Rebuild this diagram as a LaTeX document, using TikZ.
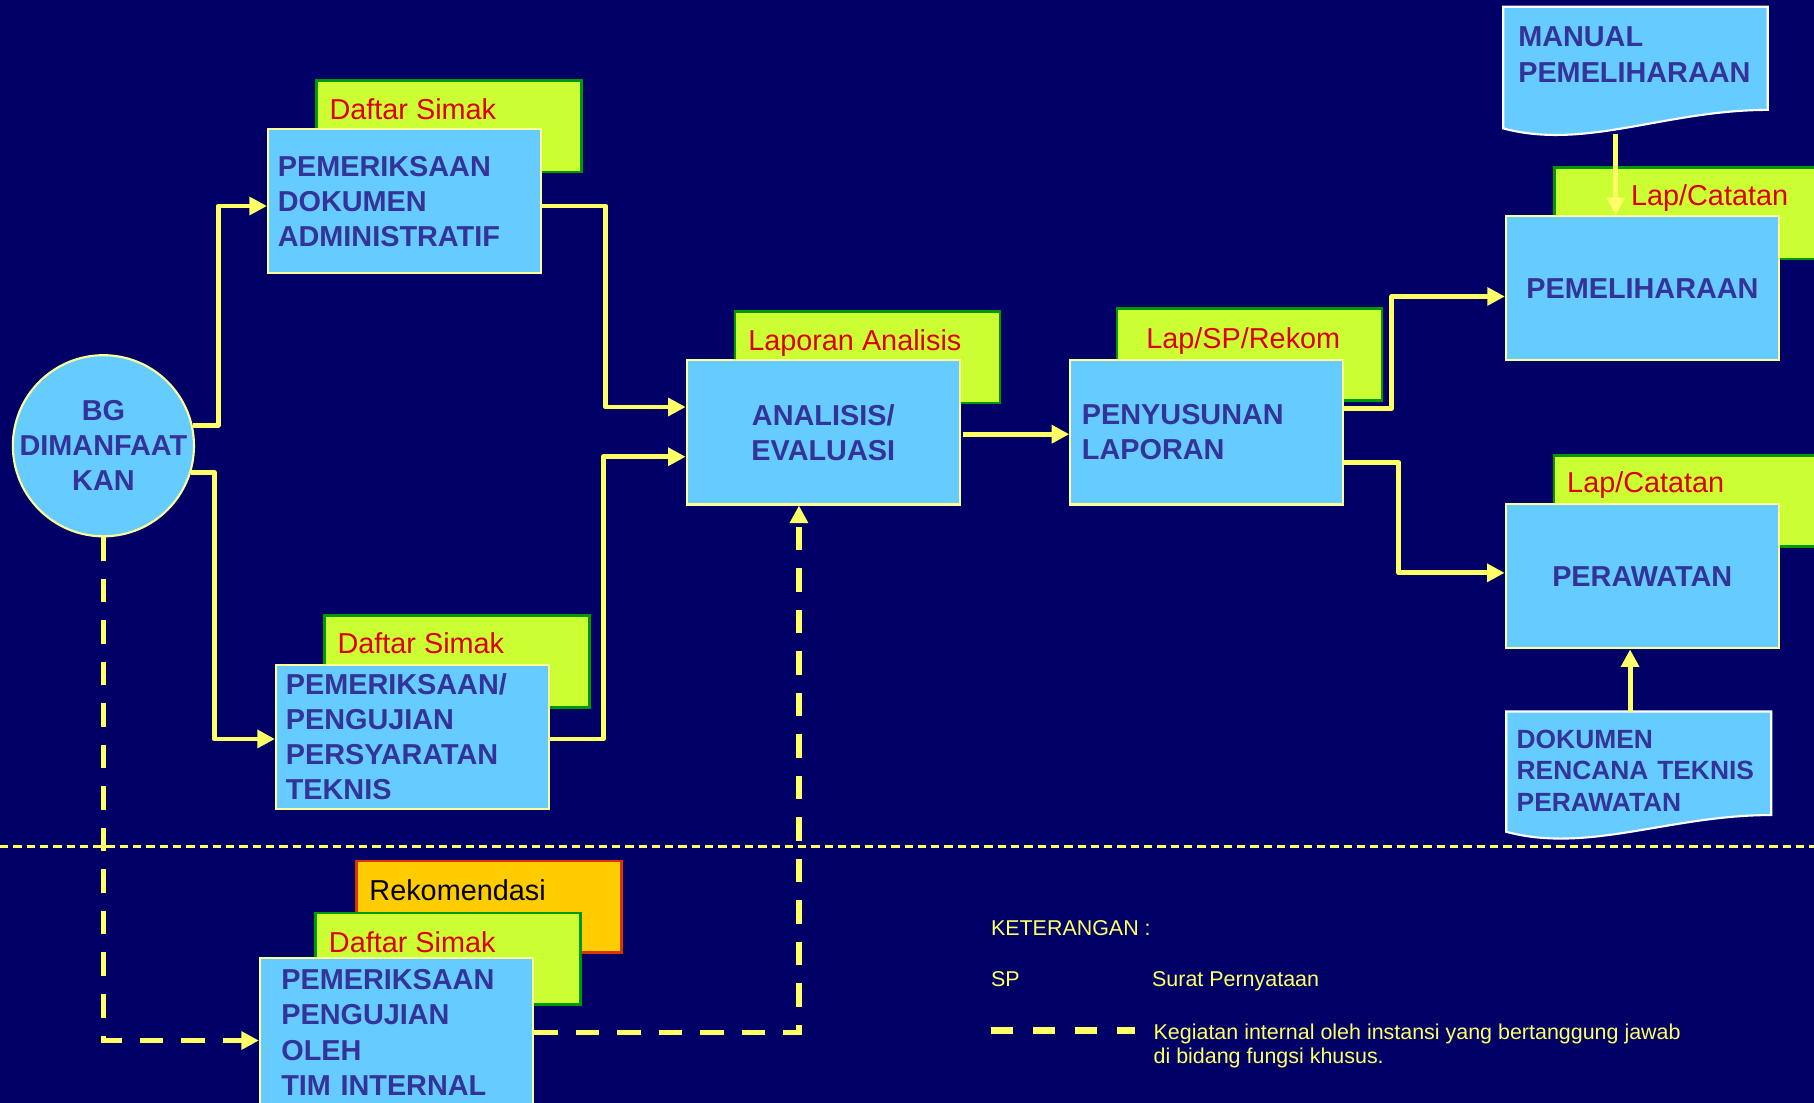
\documentclass[tikz,border=0pt]{standalone}
\usepackage{fontspec}
\setmainfont{Liberation Sans}
\usetikzlibrary{calc,positioning,arrows.meta}

\definecolor{navy}{RGB}{0,0,102}
\definecolor{boxfill}{RGB}{102,204,255}
\definecolor{boxline}{RGB}{255,255,153}
\definecolor{boxtext}{RGB}{51,51,153}
\definecolor{tabfill}{RGB}{204,255,51}
\definecolor{tabline}{RGB}{0,153,0}
\definecolor{recfill}{RGB}{255,204,0}
\definecolor{recline}{RGB}{221,51,0}
\definecolor{labelred}{RGB}{221,0,0}
\definecolor{flow}{RGB}{255,255,102}

\pgfdeclarelayer{sheet}
\pgfdeclarelayer{tabs}
\pgfsetlayers{sheet,tabs,main}

\begin{document}
\begin{tikzpicture}[x=0.011569cm, y=-0.011569cm]
  % ---- Styles ------------------------------------------------
  % one unit = one pixel of the slide, y runs downwards
  \tikzstyle{procbox}=[rectangle, draw=boxline, fill=boxfill, line width=0.6pt,
                       minimum width=2.73cm, minimum height=1.44cm,
                       inner xsep=0.098cm, inner ysep=0pt, text width=2.534cm,
                       align=left, text=boxtext,
                       font=\fontsize{8.2}{10}\selectfont\bfseries]
  \tikzstyle{tabbox}=[rectangle, draw=tabline, fill=tabfill, line width=0.8pt,
                      minimum width=2.649cm, minimum height=0.914cm,
                      inner sep=0pt, anchor=north west]
  \tikzstyle{tablabel}=[anchor=base west, inner sep=0pt, text=labelred,
                        font=\fontsize{8.2}{10}\selectfont]
  \tikzstyle{doctext}=[anchor=north west, align=left, text=boxtext,
                       font=\fontsize{8.2}{10}\selectfont\bfseries]
  \tikzstyle{docshape}=[draw=white, fill=boxfill, line width=0.6pt]
  \tikzstyle{flowline}=[flow, line width=1.4pt, line join=round,
                        -{Triangle[length=5pt,width=5pt]}]
  \tikzstyle{internline}=[flow, line width=1.6pt,
                          dash pattern=on 0.235cm off 0.18cm,
                          -{Triangle[length=5pt,width=5pt]}]
  \tikzstyle{sepline}=[flow, line width=0.7pt, dash pattern=on 0.083cm off 0.05cm]
  \tikzstyle{legendtext}=[anchor=base west, inner sep=0pt, text=flow,
                          font=\fontsize{6.1}{7}\selectfont]

  \useasboundingbox (0,0) rectangle (1568,953);
  \begin{pgfonlayer}{sheet}
    \fill[navy] (0,0) rectangle (1568,953);
  \end{pgfonlayer}

  % ---- Start: the building in use ---------------------------
  \node[circle, draw=boxline, fill=boxfill, line width=0.6pt,
        minimum size=1.811cm, inner sep=0pt] (bg) at (89.4,385.3) {};
  \node[align=center, text=boxtext, font=\fontsize{8.2}{10}\selectfont\bfseries]
        (bgtext) at (bg.center) {BG\\DIMANFAAT\\KAN};

  % ---- Process boxes -----------------------------------------
  \node[procbox] (boxA) at (349.7,174.05) {PEMERIKSAAN\\DOKUMEN\\ADMINISTRATIF};
  \node[procbox] (boxB) at (356.6,636.75) {PEMERIKSAAN/\\PENGUJIAN\\PERSYARATAN\\TEKNIS};
  \node[procbox, align=center] (boxC) at (711.6,373.8) {ANALISIS/\\EVALUASI};
  \node[procbox, inner xsep=0.116cm, text width=2.498cm] (boxD) at (1043.2,373.8) {PENYUSUNAN\\LAPORAN};
  \node[procbox, align=center] (boxE) at (1419.7,249.25) {PEMELIHARAAN};
  \node[procbox, align=center] (boxF) at (1419.5,498.15) {PERAWATAN};
  \node[procbox, minimum height=1.481cm, inner xsep=0.214cm, text width=2.302cm]
        (boxG) at (342.7,892.4) {PEMERIKSAAN\\PENGUJIAN\\OLEH\\TIM INTERNAL};

  % ---- Documents ---------------------------------------------
  \node[doctext, inner xsep=0.143cm, inner ysep=0.197cm, text width=2.36cm]
        (manual) at (1299.4,5.8) {MANUAL\\PEMELIHARAAN};
  \node[doctext, inner xsep=0.097cm, inner ysep=0.174cm, text width=2.455cm,
        font=\fontsize{7.5}{9}\selectfont\bfseries]
        (dokumen) at (1302,615) {DOKUMEN\\RENCANA TEKNIS\\PERAWATAN};

  % ---- Tabs behind the boxes, document outlines --------------
  \begin{pgfonlayer}{tabs}
    \node[tabbox] (tabA) at ([shift={(41.5,-42.5)}]boxA.north west) {};
    \node[tabbox] (tabB) at ([shift={(41.5,-42.5)}]boxB.north west) {};
    \node[tabbox] (tabC) at ([shift={(41.5,-42.5)}]boxC.north west) {};
    \node[tabbox] (tabD) at ([shift={(40,-45)}]boxD.north west) {};
    \node[tabbox] (tabE) at ([shift={(41.5,-42.5)}]boxE.north west) {};
    \node[tabbox] (tabF) at ([shift={(41.5,-42.5)}]boxF.north west) {};
    \node[tabbox, draw=recline, fill=recfill] (tabRek) at ([shift={(83,-84.5)}]boxG.north west) {};
    \node[tabbox] (tabG) at ([shift={(48,-39.5)}]boxG.north west) {};

    \filldraw[docshape] (manual.north west) -- ++(228.6,0) -- ++(0,89.2)
      .. controls +(-88,0) and +(71,19) .. ++(-228.6,16) -- cycle;
    \filldraw[docshape] (dokumen.north west) -- ++(229,0) -- ++(0,89.5)
      .. controls +(-88,0) and +(71,19) .. ++(-229,14.5) -- cycle;
  \end{pgfonlayer}

  % ---- Tab labels --------------------------------------------
  \node[tablabel] (lblA) at ([shift={(12,34.5)}]tabA.north west) {Daftar Simak};
  \node[tablabel] (lblB) at ([shift={(12,34)}]tabB.north west) {Daftar Simak};
  \node[tablabel] (lblC) at ([shift={(12,35)}]tabC.north west) {Laporan Analisis};
  \node[tablabel] (lblD) at ([shift={(26,36)}]tabD.north west) {Lap/SP/Rekom};
  \node[tablabel] (lblE) at ([shift={(67,34)}]tabE.north west) {Lap/Catatan};
  \node[tablabel] (lblF) at ([shift={(12,33.5)}]tabF.north west) {Lap/Catatan};
  \node[tablabel, text=black] (lblRek) at ([shift={(12,35)}]tabRek.north west) {Rekomendasi};
  \node[tablabel] (lblG) at ([shift={(12,35)}]tabG.north west) {Daftar Simak};

  % ---- Connectors --------------------------------------------
  \draw[flowline] (bg.13) -- ++(22,0) |- ([shift={(0,4)}]boxA.west);
  \draw[flowline] (bg.-17) -- ++(20,0) |- ([shift={(0,2)}]boxB.west);
  \draw[flowline] ([shift={(0,4)}]boxA.east) -- ++(55,0) |- ([shift={(0,-22)}]boxC.west);
  \draw[flowline] ([shift={(0,2)}]boxB.east) -- ++(46,0) |- ([shift={(0,21)}]boxC.west);
  \draw[flowline] ([shift={(2,1.5)}]boxC.east) -- ([shift={(0,1.5)}]boxD.west);
  \draw[flowline] ([shift={(0,-21)}]boxD.east) -- ++(41,0) |- ([shift={(0,7)}]boxE.west);
  \draw[flowline] ([shift={(0,26)}]boxD.east) -- ++(47,0) |- ([shift={(0,-3)}]boxF.west);

  \coordinate (manualout) at (1396.6,116);
  \coordinate (dokumenout) at (1409,615);
  \draw[flowline] (manualout) -- (manualout |- boxE.north);
  \draw[flowline] (dokumenout) -- (dokumenout |- boxF.south);

  % internal route (dashed)
  \draw[internline] (bg.south) |- ([shift={(0,7)}]boxG.west);
  \draw[internline] (boxG.east) -| ([shift={(-21,0)}]boxC.south);

  % ---- Separator ---------------------------------------------
  \draw[sepline] (0,731.8) -- (1568,731.8);

  % ---- Legend ------------------------------------------------
  \node[legendtext] (keterangan) at (856,808.2) {KETERANGAN :};
  \node[legendtext] (sp) at (856,852.3) {SP};
  \node[legendtext] (spdesc) at (995.3,852.3) {Surat Pernyataan};
  \coordinate (legA) at (857,890.9);
  \coordinate (legB) at (981,890.9);
  \draw[internline, -, line width=1.9pt, dash pattern=on 0.22cm off 0.2cm] (legA) -- (legB);
  \node[legendtext] (internA) at (996.6,898.1) {Kegiatan internal oleh instansi yang bertanggung jawab};
  \node[legendtext] (internB) at (996.6,919) {di bidang fungsi khusus.};

\end{tikzpicture}
\end{document}
